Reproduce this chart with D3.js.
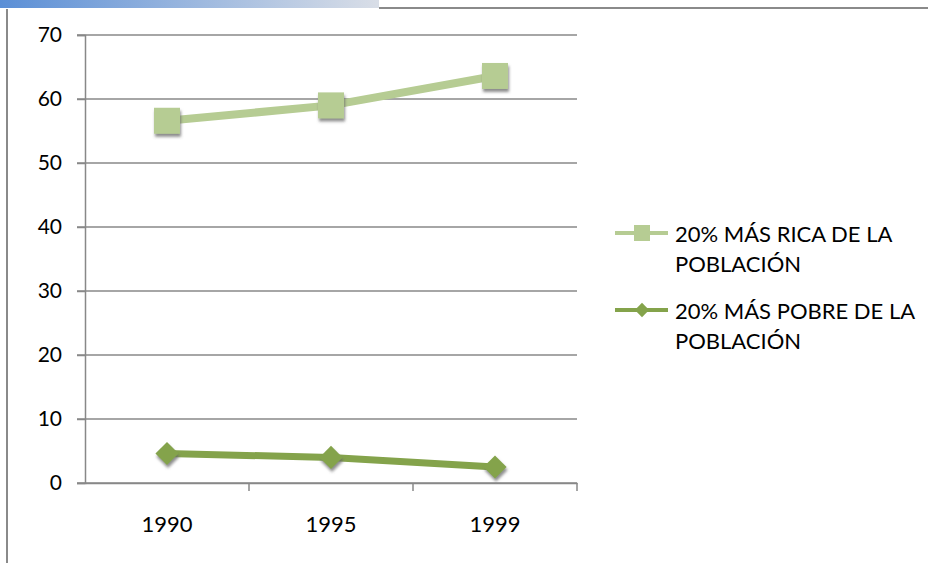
<!DOCTYPE html>
<html>
<head>
<meta charset="utf-8">
<title>Distribución del ingreso</title>
<script src="https://cdn.jsdelivr.net/npm/d3@7"></script>
<style>
  body { margin: 0; background: #fff; }
  text { font-family: Lato, "Open Sans", sans-serif; fill: #000; }
</style>
</head>
<body>
<svg id="chart" width="928" height="563"></svg>
<script>
// data
var years = ["1990", "1995", "1999"];
var rich = [56.6, 59.0, 63.6];
var poor = [4.6, 4.0, 2.5];
var yTicks = [0, 10, 20, 30, 40, 50, 60, 70];
var seriesNames = [["20% MÁS RICA DE LA", "POBLACIÓN"], ["20% MÁS POBRE DE LA", "POBLACIÓN"]];

var svg = d3.select("#chart");

// window frame bits
var defs = svg.append("defs");
var grad = defs.append("linearGradient").attr("id", "topbar");
grad.append("stop").attr("offset", "0%").attr("stop-color", "#5b8fd6");
grad.append("stop").attr("offset", "100%").attr("stop-color", "#d9dee7");
svg.append("rect").attr("x", 0).attr("y", 0).attr("width", 379).attr("height", 8).attr("fill", "url(#topbar)");
svg.append("line").attr("x1", 379).attr("x2", 928).attr("y1", 8).attr("y2", 8)
  .attr("stroke", "#8a8a8a").attr("stroke-width", 2);
svg.append("line").attr("x1", 7).attr("x2", 7).attr("y1", 9).attr("y2", 563)
  .attr("stroke", "#8a8a8a").attr("stroke-width", 2);

// shadow filter for markers
var f = defs.append("filter").attr("id", "shadow").attr("x", "-50%").attr("y", "-50%").attr("width", "200%").attr("height", "200%");
f.append("feDropShadow").attr("dx", 1).attr("dy", 3).attr("stdDeviation", 1.5).attr("flood-color", "#666").attr("flood-opacity", 0.75);

var plotL = 85, plotR = 577, plotT = 35, plotB = 483;

var x = d3.scaleBand().domain(years).range([plotL, plotR]);
var y = d3.scaleLinear().domain([0, 70]).range([plotB, plotT]);

// gridlines
svg.append("g").selectAll("line").data(yTicks).join("line")
  .attr("x1", plotL - 8).attr("x2", plotR)
  .attr("y1", d => y(d)).attr("y2", d => y(d))
  .attr("stroke", "#888").attr("stroke-width", 1.5);

// y axis
var yAxis = svg.append("g").attr("transform", "translate(" + plotL + ",0)")
  .call(d3.axisLeft(y).tickValues(yTicks).tickSize(8).tickPadding(15));
yAxis.select(".domain").attr("stroke", "#888").attr("stroke-width", 1.5);
yAxis.selectAll(".tick line").attr("stroke", "#888").attr("stroke-width", 1.5);
yAxis.selectAll("text").attr("font-size", 21);

// x axis
var xAxis = svg.append("g").attr("transform", "translate(0," + plotB + ")")
  .call(d3.axisBottom(x).tickSize(0).tickPadding(33));
xAxis.select(".domain").attr("stroke", "#888").attr("stroke-width", 1.5);
xAxis.selectAll("text").attr("font-size", 22);
// boundary ticks between categories
svg.append("g").selectAll("line").data(years).join("line")
  .attr("x1", d => x(d) + x.bandwidth()).attr("x2", d => x(d) + x.bandwidth())
  .attr("y1", plotB).attr("y2", plotB + 8)
  .attr("stroke", "#888").attr("stroke-width", 1.5);

var cx = d => x(d) + x.bandwidth() / 2;
var line = d3.line().x((d, i) => cx(years[i])).y(d => y(d));

var richColor = "#b6cc93", poorColor = "#84a34b";

svg.append("path").datum(rich).attr("d", line)
  .attr("fill", "none").attr("stroke", richColor).attr("stroke-width", 8);
svg.append("g").selectAll("rect").data(rich).join("rect")
  .attr("x", (d, i) => cx(years[i]) - 13).attr("y", d => y(d) - 13)
  .attr("width", 26).attr("height", 26)
  .attr("fill", richColor).attr("filter", "url(#shadow)");

svg.append("path").datum(poor).attr("d", line)
  .attr("fill", "none").attr("stroke", poorColor).attr("stroke-width", 7);
var diamond = d3.symbol().type(d3.symbolDiamond2).size(340);
svg.append("g").selectAll("path").data(poor).join("path")
  .attr("d", diamond)
  .attr("transform", (d, i) => "translate(" + cx(years[i]) + "," + y(d) + ")")
  .attr("fill", poorColor).attr("filter", "url(#shadow)");

// legend
var lg = svg.append("g");
var legendRows = [
  {y: 233, color: richColor, marker: "square", lines: seriesNames[0]},
  {y: 310, color: poorColor, marker: "diamond", lines: seriesNames[1]}
];
legendRows.forEach(function(r) {
  lg.append("line").attr("x1", 615).attr("x2", 668).attr("y1", r.y).attr("y2", r.y)
    .attr("stroke", r.color).attr("stroke-width", 4);
  if (r.marker === "square") {
    lg.append("rect").attr("x", 634).attr("y", r.y - 8).attr("width", 16).attr("height", 16).attr("fill", r.color);
  } else {
    lg.append("path").attr("d", d3.symbol().type(d3.symbolDiamond2).size(130))
      .attr("transform", "translate(642," + r.y + ")").attr("fill", r.color);
  }
  r.lines.forEach(function(t, i) {
    lg.append("text").attr("x", 675).attr("y", r.y + 9 + i * 30)
      .attr("font-size", 22).text(t);
  });
});
</script>
</body>
</html>
